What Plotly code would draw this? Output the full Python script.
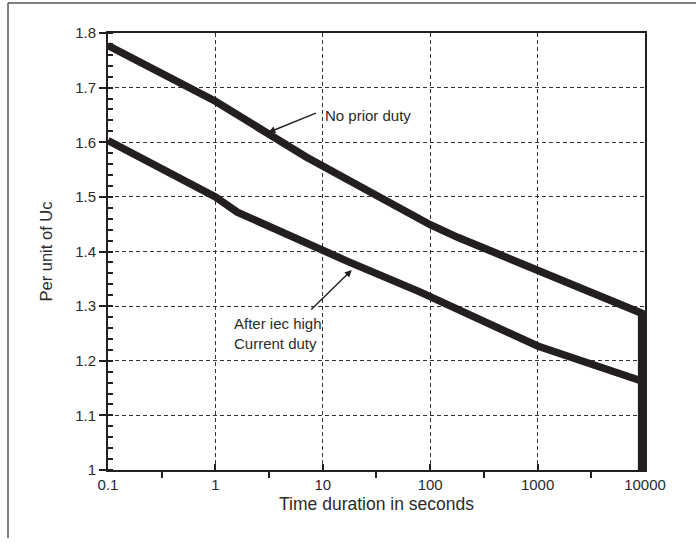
import plotly.graph_objects as go
import math

# Data
no_prior_t = [0.1, 1, 7, 10, 100, 180, 9300, 9300]
no_prior_pu = [1.777, 1.675, 1.573, 1.556, 1.449, 1.426, 1.287, 1.0]

after_iec_t = [0.1, 1, 1.6, 10, 17, 80, 1000, 9300]
after_iec_pu = [1.603, 1.500, 1.472, 1.400, 1.382, 1.326, 1.227, 1.163]

x_tickvals = [0.1, 1, 10, 100, 1000, 10000]
x_ticktext = ["0.1", "1", "10", "100", "1000", "10000"]
x_minorvals = [0.316, 3.16, 31.6, 316, 3162]
y_tickvals = [1, 1.1, 1.2, 1.3, 1.4, 1.5, 1.6, 1.7, 1.8]
y_ticktext = ["1", "1.1", "1.2", "1.3", "1.4", "1.5", "1.6", "1.7", "1.8"]

FONT = "Liberation Sans, Arial, sans-serif"
INK = "#231f20"
TXT = "#2b2b2b"

fig = go.Figure()
fig.add_trace(go.Scatter(x=no_prior_t, y=no_prior_pu, mode="lines",
                         line=dict(color=INK, width=7.5), showlegend=False,
                         hoverinfo="skip"))
fig.add_trace(go.Scatter(x=after_iec_t, y=after_iec_pu, mode="lines",
                         line=dict(color=INK, width=7.5), showlegend=False,
                         hoverinfo="skip"))

L, R, T, B = 108, 51, 33, 73
W, H = 696, 543
pw, ph = W - L - R, H - T - B

fig.update_layout(
    width=W, height=H,
    margin=dict(l=L, r=R, t=T, b=B),
    paper_bgcolor="white", plot_bgcolor="white",
    font=dict(family=FONT, size=15, color=TXT),
    xaxis=dict(
        type="log", range=[-1, 4],
        tickmode="array", tickvals=x_tickvals, ticktext=x_ticktext,
        ticks="inside", ticklen=6, tickwidth=1.5, tickcolor=INK,
        showgrid=True, gridcolor="#333333", gridwidth=1, griddash="4px,3px",
        showline=True, linecolor=INK, linewidth=2, mirror=True,
        zeroline=False,
        minor=dict(tickmode="array", tickvals=x_minorvals, ticks="outside",
                   ticklen=6, tickwidth=1.5, tickcolor=INK, showgrid=False),
        title=dict(text="Time duration in seconds", font=dict(size=17.5, color=TXT),
                   standoff=6),
        tickfont=dict(size=15, color=TXT),
    ),
    yaxis=dict(
        range=[1, 1.8],
        tickmode="array", tickvals=y_tickvals, ticktext=y_ticktext,
        ticks="outside", ticklen=7, tickwidth=1.5, tickcolor=INK,
        showgrid=True, gridcolor="#333333", gridwidth=1, griddash="4px,3px",
        showline=True, linecolor=INK, linewidth=2, mirror=True,
        zeroline=False,
        minor=dict(tickmode="linear", tick0=1, dtick=0.02, ticks="inside",
                   ticklen=5, tickwidth=1.5, tickcolor=INK, showgrid=False),
        title=dict(text="Per unit of Uc", font=dict(size=16.5, color=TXT),
                   standoff=18),
        tickfont=dict(size=15, color=TXT),
    ),
)

def px_x(p):
    return (p - L) / pw

def px_y(p):
    return (H - B - p) / ph

# outer frame (top and left)
fig.add_shape(type="line", xref="paper", yref="paper",
              x0=px_x(8), y0=px_y(3), x1=px_x(700), y1=px_y(3),
              line=dict(color="#555555", width=1.5))
fig.add_shape(type="line", xref="paper", yref="paper",
              x0=px_x(8), y0=px_y(3), x1=px_x(8), y1=px_y(538),
              line=dict(color="#555555", width=1.5))

# annotations: arrows (heads on the curves)
fig.add_annotation(x=math.log10(3.11), y=1.618, xref="x", yref="y",
                   text="", showarrow=True, arrowhead=2, arrowsize=1,
                   arrowwidth=1.4, arrowcolor=INK, ax=49, ay=-20)
fig.add_annotation(x=math.log10(18.6), y=1.366, xref="x", yref="y",
                   text="", showarrow=True, arrowhead=2, arrowsize=1,
                   arrowwidth=1.4, arrowcolor=INK, ax=-42, ay=41)

fig.add_annotation(x=px_x(323), y=px_y(115.5), xref="paper", yref="paper",
                   text="No prior duty", showarrow=False, xanchor="left",
                   yanchor="middle", font=dict(size=15, color=TXT))
fig.add_annotation(x=px_x(232), y=px_y(333), xref="paper", yref="paper",
                   text="After iec high<br>Current duty", showarrow=False,
                   xanchor="left", yanchor="middle", align="left",
                   font=dict(size=15, color=TXT))

fig.write_html("out.html",
               config={"displayModeBar": False},
               post_script="document.body.style.margin='0';document.body.style.overflow='hidden';")
